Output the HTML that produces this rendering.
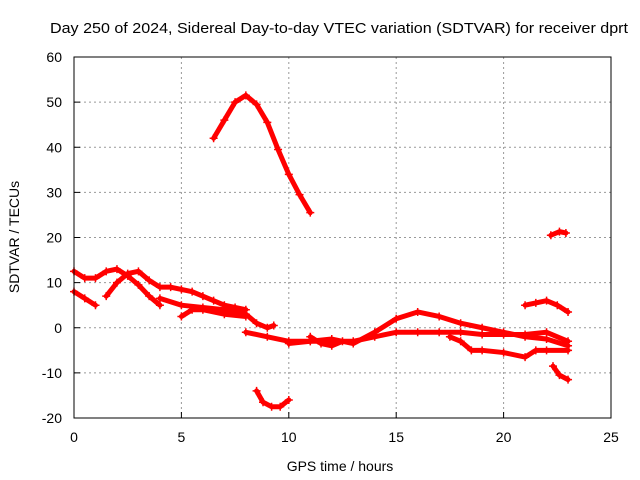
<!DOCTYPE html>
<html><head><meta charset="utf-8"><style>
body{margin:0;background:#fff}
svg{display:block;font-family:"Liberation Sans",sans-serif}
</style></head><body>
<svg id="c" width="640" height="480">
<rect width="640" height="480" fill="#fff"/>
<text x="339" y="33" font-size="15" text-anchor="middle" textLength="578" lengthAdjust="spacingAndGlyphs">Day 250 of 2024, Sidereal Day-to-day VTEC variation (SDTVAR) for receiver dprt</text>
<g id="grid"></g><g id="axes"></g><g id="marks"></g>
<rect x="74" y="57" width="537" height="361" fill="none" stroke="#000"/>
<text x="340" y="471" font-size="14" text-anchor="middle">GPS time / hours</text>
<text transform="translate(19,237) rotate(-90)" font-size="14" text-anchor="middle">SDTVAR / TECUs</text>
</svg>
<script>
const xTicks=[0,5,10,15,20,25];
const yTicks=[-20,-10,0,10,20,30,40,50,60];
const s1=[[6.5,42],[7,46],[7.5,50],[8,51.5],[8.5,49.5],[9,45.5],[9.5,39.5],[10,34],[10.5,29.5],[11,25.5]];
const s2=[[8.5,-14],[8.8,-16.5],[9.2,-17.5],[9.6,-17.5],[10,-16]];
const s3=[[22.2,20.5],[22.6,21.3],[22.9,21]];
const s4=[[0,8],[0.5,6.5],[1,5]];
const s5=[[0,12.5],[0.5,11],[1,11],[1.5,12.5],[2,13],[2.5,11.5],[3,9.5],[3.5,7],[4,5]];
const s6=[[1.5,7],[2,10],[2.5,12],[3,12.5],[3.5,10.5],[4,9],[4.5,9],[5,8.5],[5.5,8],[6,7],[6.5,6],[7,5],[7.5,4.5],[8,4]];
const s7=[[4,6.5],[5,5],[6,4.5],[7,4],[7.5,3.5],[8,3],[8.5,1],[9,0],[9.3,0.5]];
const s8=[[5,2.5],[5.5,4],[6,4],[7,3],[8,2.5]];
const s9=[[8,-1],[9,-2],[10,-3],[11,-3],[12,-3],[13,-3],[14,-2],[15,-1],[16,-1],[17,-1],[18,-1],[19,-1.5],[20,-1.5],[21,-1.5],[22,-1],[23,-3]];
const s10=[[10,-3.5],[11,-3],[12,-2.5],[13,-3.5],[14,-1],[15,2],[16,3.5],[17,2.5],[18,1],[19,0],[20,-1],[21,-2],[22,-2.5],[23,-4]];
const s11=[[17.5,-2],[18,-3],[18.5,-5],[19,-5],[20,-5.5],[21,-6.5],[21.5,-5],[22,-5],[23,-5]];
const s12=[[21,5],[21.5,5.5],[22,6],[22.5,5],[23,3.5]];
const s13=[[22.3,-8.5],[22.6,-10.5],[23,-11.5]];
const s14=[[11,-2],[11.5,-3.5],[12,-4],[12.5,-3]];
const series=[s1,s2,s3,s4,s5,s6,s7,s8,s9,s10,s11,s12,s13,s14];
const X=v=>74+v*(537/25), Y=v=>418-(v+20)*(361/80);
const NS="http://www.w3.org/2000/svg";
const mk=(t,a,p)=>{const e=document.createElementNS(NS,t);for(const k in a)e.setAttribute(k,a[k]);p.appendChild(e);return e;};
const g=document.getElementById('grid'),ax=document.getElementById('axes'),m=document.getElementById('marks');
xTicks.forEach(t=>{
 if(t>0&&t<25){const l=mk('line',{x1:X(t),x2:X(t),y1:57,y2:418,stroke:'#999','stroke-dasharray':'2,3'},g);
 
 }
 const tk=mk('line',{x1:X(t),x2:X(t),y1:418,y2:412,stroke:'#000'},ax);
 
 
 const tx=mk('text',{x:X(t),y:442,'font-size':14,'text-anchor':'middle'},ax);tx.textContent=t;
 
 
});
yTicks.forEach(t=>{
 if(t>-20&&t<60){const l=mk('line',{x1:74,x2:611,y1:Y(t),y2:Y(t),stroke:'#999','stroke-dasharray':'2,3'},g);
 
 }
 const tk=mk('line',{x1:74,x2:80,y1:Y(t),y2:Y(t),stroke:'#000'},ax);
 
 
 const tx=mk('text',{x:62,y:Y(t)+5,'font-size':14,'text-anchor':'end'},ax);tx.textContent=t;
 
 
});
series.forEach((s,i)=>{
 const pl=mk('polyline',{points:s.map(p=>X(p[0])+','+Y(p[1])).join(' '),fill:'none',stroke:'#f00','stroke-width':5,'stroke-linejoin':'round','stroke-linecap':'round'},m);
 
 
 s.forEach(p=>{
  const x=X(p[0]),y=Y(p[1]);
  const pt=mk('path',{d:`M${x-4},${y}H${x+4}M${x},${y-4}V${y+4}`,stroke:'#f00','stroke-width':1.5},m);
  
  
 });
});
</script>
</body></html>
